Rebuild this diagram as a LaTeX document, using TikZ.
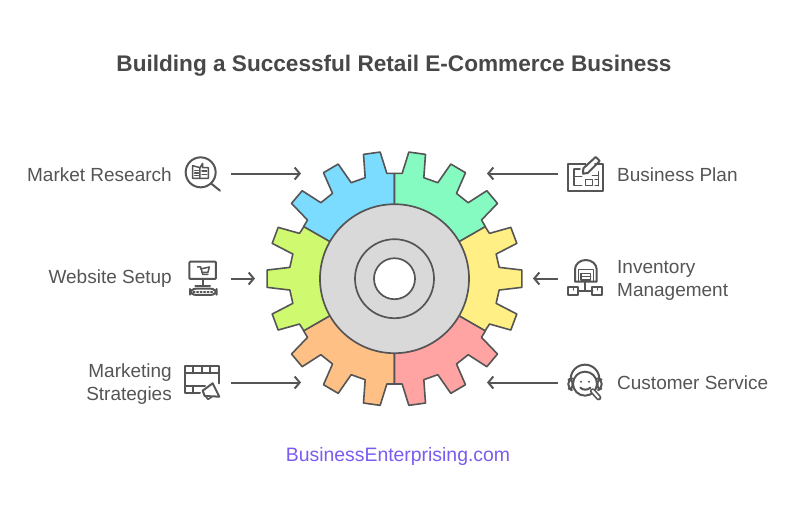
\documentclass[tikz,border=0pt]{standalone}
\usepackage{fontspec}
\setmainfont{Liberation Sans}
\usetikzlibrary{arrows.meta}
\definecolor{ink}{HTML}{555555}
\definecolor{titleink}{HTML}{484848}
\definecolor{linkc}{HTML}{7B5CF0}
\definecolor{cblue}{HTML}{7BDCFF}
\definecolor{cgreen}{HTML}{85FBC2}
\definecolor{cyellow}{HTML}{FFEF85}
\definecolor{cpink}{HTML}{FFA3A3}
\definecolor{corange}{HTML}{FFC085}
\definecolor{clime}{HTML}{CFFA70}
\definecolor{cgray}{HTML}{D9D9D9}
\newcommand\topsector{(0,0) -- (0,-316) -- (-23,-316) -- (-43,-380) -- (-93,-373) -- (-88,-303) -- (-130,-288) -- (-169,-344) -- (-213,-318) -- (-186,-256) -- (-221,-228) -- (-277,-264) -- (-309,-226) -- (-261,-176) -- (-273,-156) -- cycle}
\newcommand\sidesector{(0,0) -- (272,-156) -- (285,-136) -- (349,-154) -- (367,-106) -- (305,-74) -- (314,-34) -- (382,-26) -- (382,26) -- (314,34) -- (305,74) -- (367,106) -- (349,154) -- (285,136) -- (272,156) -- cycle}
\tikzset{
  sector/.style={draw=ink,line width=1.6pt,line join=round},
  flow/.style={draw=ink,line width=2pt,-{Straight Barb[length=5pt,width=12pt,line width=2pt]}},
  label/.style={text=ink,font=\fontsize{19}{23}\selectfont,align=left,inner sep=0pt},
  icon/.style={draw=ink,line width=2pt,line join=round,line cap=round},
  thin icon/.style={draw=ink,line width=1.5pt,line join=round,line cap=round},
  zoomed/.style={x=0.3333pt,y=-0.3333pt},
}
\begin{document}
\begin{tikzpicture}[x=1pt,y=-1pt]
\useasboundingbox[fill=white] (0,0) rectangle (800,512);
\node[text=titleink,font=\bfseries\fontsize{22.6}{28}\selectfont,inner sep=0pt] (title) at (394,66) {Building a Successful Retail E-Commerce Business};
\node[text=linkc,font=\fontsize{19.4}{23}\selectfont,inner sep=0pt] (link) at (398,456) {BusinessEnterprising.com};
% gear
\begin{scope}[shift={(394.5,278.7)},zoomed]
\draw[sector,fill=cblue] \topsector;
\begin{scope}[xscale=-1]\draw[sector,fill=cgreen] \topsector;\end{scope}
\begin{scope}[yscale=-1]\draw[sector,fill=corange] \topsector;\end{scope}
\begin{scope}[xscale=-1,yscale=-1]\draw[sector,fill=cpink] \topsector;\end{scope}
\draw[sector,fill=cyellow] \sidesector;
\begin{scope}[xscale=-1]\draw[sector,fill=clime] \sidesector;\end{scope}
\node[circle,draw=ink,line width=1.7pt,fill=cgray,minimum size=149pt,inner sep=0pt] (hub) at (0,0) {};
\node[circle,draw=ink,line width=1.7pt,fill=cgray,minimum size=79pt,inner sep=0pt] (ring) at (0,0) {};
\node[circle,draw=ink,line width=1.7pt,fill=white,minimum size=41pt,inner sep=0pt] (hole) at (0,0) {};
\end{scope}
% labels
\node[label,anchor=east] (l1) at (172,174.5) {Market Research};
\node[label,anchor=east] (l2) at (172,278.5) {Website Setup};
\node[label,anchor=east,align=right] (l3) at (172,384.5) {Marketing\\Strategies};
\node[label,anchor=west] (r1) at (617,174.5) {Business Plan};
\node[label,anchor=west] (r2) at (617,280) {Inventory\\Management};
\node[label,anchor=west] (r3) at (617,383) {Customer Service};
% arrows
\coordinate (a1s) at (231,173.5); \coordinate (a1e) at (301,173.5);
\coordinate (a2s) at (231,278.5); \coordinate (a2e) at (255,278.5);
\coordinate (a3s) at (231,382.5); \coordinate (a3e) at (301,382.5);
\coordinate (b1s) at (558,173.5); \coordinate (b1e) at (487,173.5);
\coordinate (b2s) at (558,278.5); \coordinate (b2e) at (533,278.5);
\coordinate (b3s) at (558,382.5); \coordinate (b3e) at (487,382.5);
\foreach \s/\e in {a1s/a1e,a2s/a2e,a3s/a3e,b1s/b1e,b2s/b2e,b3s/b3e}{\draw[flow] (\s) -- (\e);}
% icon: market research
\begin{scope}[shift={(170,145)},zoomed]
\draw[icon] (92,82) circle[radius=45];
\draw[icon] (124,116) -- (150,137);
\draw[thin icon] (68,100) -- (68,62) -- (90,68) -- (90,100) -- cycle;
\draw[thin icon] (90,68) -- (98,55) -- (98,68) -- (115,68) -- (115,100) -- (90,100);
\draw[thin icon] (74,76) -- (85,76) (74,84) -- (85,84) (74,92) -- (85,92) (96,78) -- (110,78) (96,88) -- (110,88);
\end{scope}
% icon: website setup
\begin{scope}[shift={(170,145)},zoomed]
\draw[icon,rounded corners=1pt] (58,350) rectangle (138,402);
\draw[icon] (98,402) -- (98,422);
\draw[icon] (76,422) -- (120,422);
\draw[icon,rounded corners=6pt] (60,431) rectangle (140,450);
\draw[thin icon,dotted] (70,441) -- (130,441);
\draw[thin icon] (82,366) -- (92,366) -- (98,388) -- (114,388);
\draw[thin icon] (92,372) -- (118,366) -- (114,382) -- (96,382);
\end{scope}
% icon: marketing strategies
\begin{scope}[shift={(170,350)},zoomed]
\draw[icon] (90,130) -- (45,130) -- (45,48) -- (147,48) -- (147,100);
\draw[icon] (45,70) -- (147,70);
\draw[icon] (70,48) -- (70,70) (95,48) -- (95,70) (120,48) -- (120,70);
\draw[icon] (45,108) -- (105,108) (70,108) -- (70,130);
\draw[icon,fill=white] (98,122) -- (128,100) -- (148,140) -- (104,138) -- cycle;
\draw[thin icon] (108,140) -- (114,148) -- (124,142);
\end{scope}
% icon: business plan
\begin{scope}[shift={(555,145)},zoomed]
\draw[icon] (92,57) -- (40,57) -- (40,138) -- (143,138) -- (143,57) -- (120,57);
\draw[icon] (85,70) -- (122,36) -- (134,48) -- (98,84) -- (84,86) -- cycle;
\draw[thin icon] (57,72) -- (75,72) (57,72) -- (57,122) -- (80,122) (57,94) -- (80,94);
\draw[thin icon] (92,122) -- (92,104) -- (112,104) -- (112,122) -- cycle;
\draw[thin icon] (112,92) -- (130,92) (120,104) -- (130,104) (120,122) -- (130,122) (130,80) -- (130,122);
\end{scope}
% icon: inventory
\begin{scope}[shift={(555,250)},zoomed]
\draw[icon] (60,95) -- (60,58) arc[start angle=180,end angle=360,x radius=32.5,y radius=28] -- (125,95) -- cycle;
\draw[thin icon] (70,95) -- (70,58) -- (115,58) -- (115,95);
\draw[thin icon] (78,70) -- (107,70) -- (107,90) -- (78,90) -- cycle (78,80) -- (107,80);
\draw[icon] (91,95) -- (91,122);
\draw[icon] (70,122) -- (112,122);
\draw[icon] (40,110) rectangle (70,135);
\draw[icon] (112,110) rectangle (142,135);
\draw[thin icon] (55,110) -- (55,120) (127,110) -- (127,120);
\end{scope}
% icon: customer service
\begin{scope}[shift={(555,355)},zoomed]
\draw[icon] (90,86) circle[radius=36];
\draw[icon] (47,72) arc[start angle=180,end angle=360,radius=43];
\draw[icon,rounded corners=4pt] (52,70) -- (40,74) -- (40,100) -- (52,106) -- cycle;
\draw[icon,rounded corners=4pt] (128,70) -- (140,74) -- (140,100) -- (128,106) -- cycle;
\draw[icon] (76,98) .. controls (84,106) and (98,106) .. (106,98);
\fill[ink] (78,80) circle[radius=3.5] (102,80) circle[radius=3.5];
\draw[icon,line width=5.5pt] (113,108) -- (131,128);
\draw[draw=white,line width=2.2pt,line cap=round] (113,108) -- (131,128);
\end{scope}
\end{tikzpicture}
\end{document}
